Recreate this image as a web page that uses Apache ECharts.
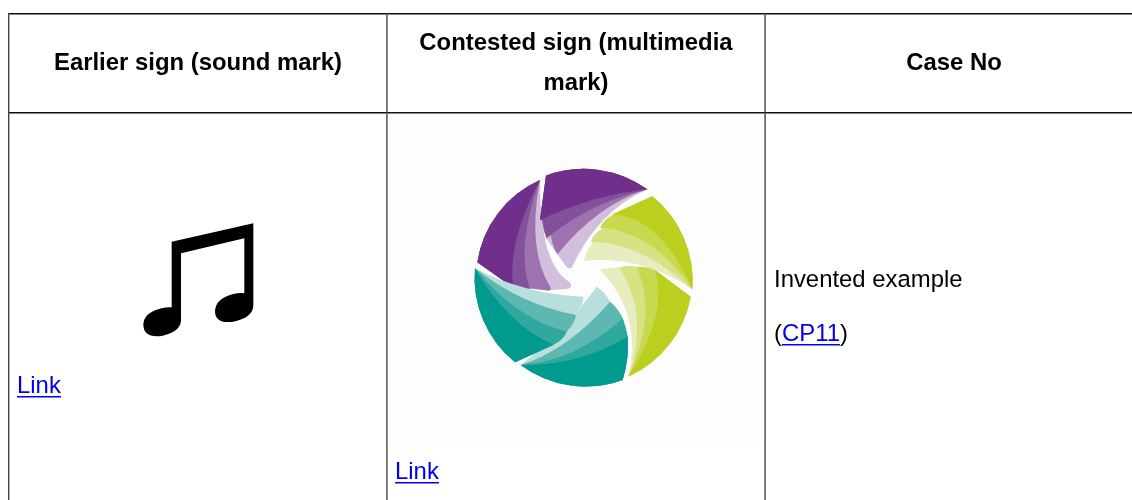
<!DOCTYPE html>
<html>
<head>
<meta charset="utf-8" />
<title>Sound mark comparison</title>
<script src="https://cdn.jsdelivr.net/npm/echarts@6/dist/echarts.min.js"></script>
<style>
  html, body { margin: 0; padding: 0; background: #fff; }
  #main { width: 1132px; height: 500px; }
</style>
</head>
<body>
<div id="main"></div>
<script>
const headers = ["Earlier sign (sound mark)", "Contested sign (multimedia", "mark)", "Case No"];
const caseLines = ["Invented example", "(", "CP11", ")"];
const linkLabel = "Link";

// dark to light
const purple = ["#702f8a", "#83509c", "#9d72af", "#d2bfdb"];
const green = ["#bccf1e", "#c9d94f", "#d7e284", "#e8edc1"];
const teal = ["#009a8e", "#2fa89e", "#5db8b1", "#b8dfdc"];

// logo blades, lightest layer first, in the 3x space of the zoomed logo
const blades = [
  // purple left
  [purple, [
    "M52,322 A323,323,0,0,1,240,75 Q239,331 330,382 Q340,402 320,402 L272,405 L160,398 Z",
    "M52,322 A323,323,0,0,1,240,75 Q200,284 272,398 Q275,410 255,406 L210,400 L160,398 Z",
    "M52,322 A323,323,0,0,1,240,75 Q165,278 210,402 Q208,415 190,408 L160,398 Z",
    "M52,322 A323,323,0,0,1,240,75 Q140,263 160,398 Z"
  ]],
  // purple top
  [purple, [
    "M258,62 A327,327,0,0,1,562,103 Q414,168 335,338 Q322,345 312,325 L292,298 L258,250 L240,195 Z",
    "M258,62 A327,327,0,0,1,562,103 Q413,149 292,298 Q278,275 272,240 L246,195 L240,195 Z",
    "M258,62 A327,327,0,0,1,562,103 Q390,143 260,250 Q250,225 246,195 L240,195 Z",
    "M258,62 A327,327,0,0,1,562,103 Q399,120 240,195 Z"
  ]],
  // green top
  [green, [
    "M577,124 A327,327,0,0,1,697,403 Q545,300 372,318 Q378,285 400,262 L425,222 L458,178 Z",
    "M577,124 A327,327,0,0,1,697,403 Q535,257 392,262 Q400,235 425,222 L458,178 Z",
    "M577,124 A327,327,0,0,1,697,403 Q582,230 420,218 Q430,195 458,180 Z",
    "M577,124 A327,327,0,0,1,697,403 Q603,189 458,178 Z"
  ]],
  // green bottom
  [green, [
    "M692,425 A327,327,0,0,1,505,665 Q548,476 420,345 Q450,335 477,338 L530,335 L585,345 Z",
    "M692,425 A327,327,0,0,1,505,665 Q570,480 477,338 Q505,328 530,336 L585,345 Z",
    "M692,425 A327,327,0,0,1,505,665 Q593,480 530,336 Q560,333 585,345 Z",
    "M692,425 A327,327,0,0,1,505,665 Q626,476 585,345 Z"
  ]],
  // teal bottom
  [teal, [
    "M488,675 A327,327,0,0,1,182,630 Q314,527 410,395 Q435,410 450,440 L488,490 L503,545 Q508,610 488,675 Z",
    "M488,675 A327,327,0,0,1,182,630 Q324,585 450,440 Q475,460 488,490 L503,545 Q508,610 488,675 Z",
    "M488,675 A327,327,0,0,1,182,630 Q345,620 488,490 Q498,515 503,545 Q508,610 488,675 Z",
    "M488,675 A327,327,0,0,1,182,630 Q357,633 503,545 Q508,610 488,675 Z"
  ]],
  // teal left
  [teal, [
    "M45,340 Q193,418 370,425 Q372,450 345,475 L320,530 L280,570 L165,622 A327,327,0,0,1,45,340 Z",
    "M45,340 Q184,450 348,480 Q345,505 320,530 L280,570 L165,622 A327,327,0,0,1,45,340 Z",
    "M45,340 Q168,492 320,530 Q310,555 282,568 L165,622 A327,327,0,0,1,45,340 Z",
    "M45,340 Q138,505 280,570 L165,622 A327,327,0,0,1,45,340 Z"
  ]]
];

const notePath = "M155,110 L400,55 L400,300 Q400,338 340,350 Q285,358 285,318 Q287,280 340,267 Q358,263 373,265 L373,100 L183,145 L183,345 Q183,380 125,393 Q70,400 70,358 Q72,322 125,310 Q140,306 155,307 Z";

const myChart = echarts.init(document.getElementById("main"));

const FONT = '"Liberation Sans", Arial, sans-serif';

const bar = (x, y, width, height, fill) => ({
  type: "rect",
  silent: true,
  shape: { x, y, width, height },
  style: { fill },
});

const label = (text, x, y, align, bold, fill) => ({
  type: "text",
  silent: true,
  x,
  y,
  style: {
    text,
    fill: fill || "#000",
    font: (bold ? "bold " : "") + "23.9px " + FONT,
    align,
    verticalAlign: "middle",
  },
});

const pathEl = (d, fill) => ({ type: "path", shape: { pathData: d }, style: { fill } });

const logo = [];
blades.forEach(([colors, paths]) => {
  paths.forEach((d, i) => logo.push(pathEl(d, colors[3 - i])));
});

const option = {
  backgroundColor: "#fff",
  animation: false,
  graphic: [
    bar(389, 114, 375, 328, "#fdfdfd"),
    // table rules
    bar(8, 13, 1124, 1.4, "#111"),
    bar(8, 112, 1124, 1.4, "#111"),
    bar(8, 13, 1.4, 487, "#444"),
    bar(386.2, 13, 1.4, 487, "#444"),
    bar(764.4, 13, 1.4, 487, "#444"),
    // header
    label(headers[0], 198, 63, "center", true),
    label(headers[1], 576, 43, "center", true),
    label(headers[2], 576, 83, "center", true),
    label(headers[3], 954, 63, "center", true),
    // case column
    label(caseLines[0], 774, 280, "left"),
    label(caseLines[1], 774, 334, "left"),
    label(caseLines[2], 782, 334, "left", false, "#0000ee"),
    label(caseLines[3], 840, 334, "left"),
    bar(782, 344, 58, 1.4, "#0000ee"),
    // links
    label(linkLabel, 17, 386, "left", false, "#0000ee"),
    bar(17, 396, 44, 1.4, "#0000ee"),
    label(linkLabel, 395, 472, "left", false, "#0000ee"),
    bar(395, 482, 44, 1.4, "#0000ee"),
  ],
  series: [
    {
      type: "custom",
      coordinateSystem: "none",
      silent: true,
      data: [0],
      renderItem: () => ({
        type: "group",
        children: [
          { type: "group", x: 460, y: 155, scaleX: 1 / 3, scaleY: 1 / 3, children: logo },
          {
            type: "group",
            x: 120,
            y: 205,
            scaleX: 1 / 3,
            scaleY: 1 / 3,
            children: [pathEl(notePath, "#000")],
          },
        ],
      }),
    },
  ],
};
// 绘制
myChart.setOption(option);
</script>
</body>
</html>
